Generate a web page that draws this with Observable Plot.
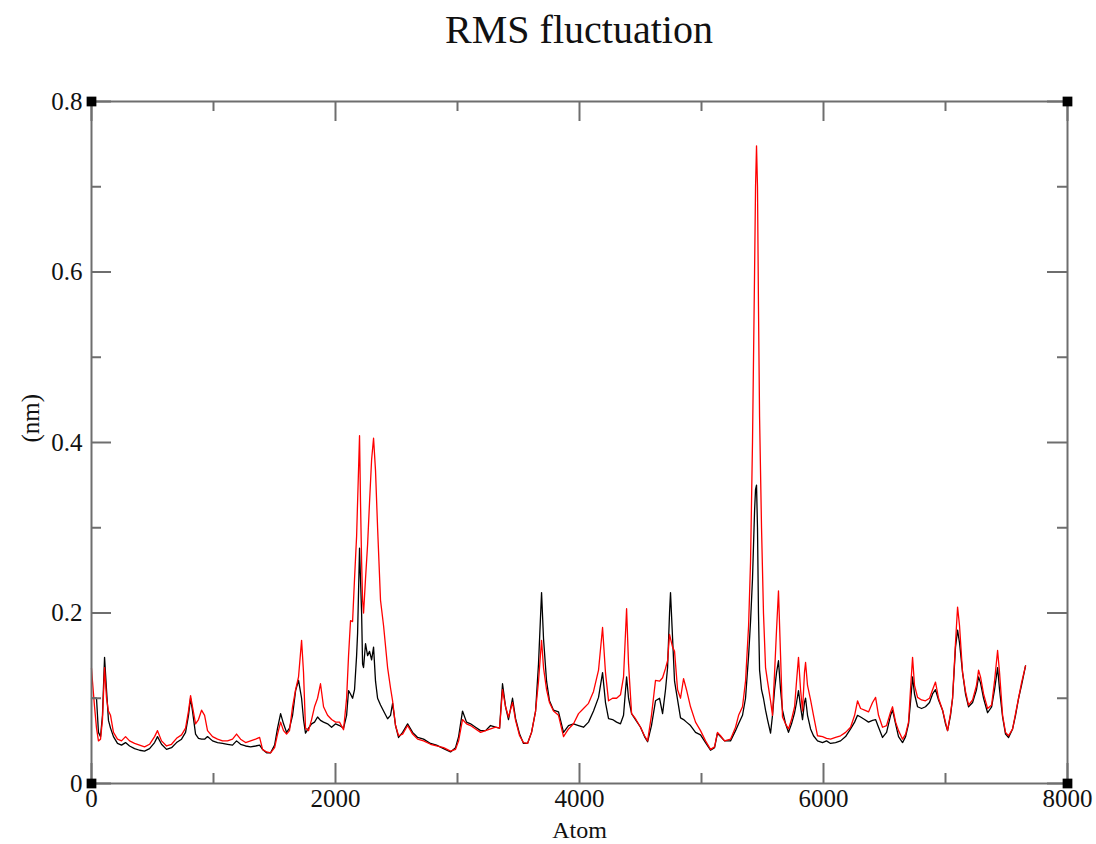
<!DOCTYPE html>
<html>
<head>
<meta charset="utf-8">
<script src="https://cdn.jsdelivr.net/npm/d3@7"></script>
<script src="https://cdn.jsdelivr.net/npm/@observablehq/plot@0.6"></script>
<style>
  body { margin: 0; background: white; }
  #title { box-sizing: border-box; height: 60px; padding: 10px 29px 0 91px; text-align: center;
           font-family: "Liberation Serif", serif; font-size: 40px; line-height: 40px; color: #111; }
</style>
</head>
<body>
<div id="title">RMS fluctuation</div>
<div id="chart"></div>
<script>
const atoms = [
  0,8,25,41,57,74,90,107,123,139,
  156,180,213,246,279,312,353,394,435,476,
  517,541,574,615,656,697,738,771,795,812,
  828,853,877,902,927,951,992,1033,1074,1115,
  1156,1189,1222,1263,1304,1345,1378,1402,1435,1468,
  1501,1525,1550,1574,1599,1623,1648,1673,1697,1722,
  1738,1754,1779,1804,1828,1853,1877,1902,1935,1968,
  2001,2033,2066,2091,2107,2123,2140,2156,2173,2181,
  2197,2205,2214,2222,2230,2246,2263,2279,2296,2312,
  2328,2345,2369,2394,2427,2451,2468,2492,2517,2550,
  2591,2632,2673,2722,2779,2828,2886,2943,2984,3009,
  3041,3074,3107,3148,3189,3230,3271,3312,3345,3369,
  3394,3418,3451,3476,3509,3541,3574,3607,3640,3664,
  3689,3705,3730,3754,3787,3828,3869,3910,3951,3992,
  4033,4074,4115,4156,4189,4213,4238,4271,4304,4336,
  4361,4386,4402,4427,4459,4500,4533,4558,4590,4623,
  4656,4681,4705,4722,4738,4746,4763,4779,4804,4828,
  4853,4877,4910,4951,4992,5033,5074,5107,5131,5156,
  5189,5238,5279,5304,5336,5361,5386,5402,5418,5435,
  5443,5451,5459,5467,5476,5492,5508,5525,5541,5566,
  5582,5599,5615,5631,5648,5664,5689,5713,5738,5763,
  5779,5795,5812,5828,5844,5853,5869,5894,5918,5951,
  5992,6025,6058,6099,6140,6181,6222,6255,6279,6304,
  6337,6369,6402,6427,6451,6484,6517,6550,6566,6591,
  6615,6648,6673,6697,6713,6730,6746,6771,6804,6836,
  6869,6894,6918,6943,6976,7000,7017,7041,7058,7082,
  7099,7115,7140,7164,7189,7222,7254,7271,7287,7312,
  7345,7378,7402,7427,7443,7468,7492,7517,7550,7574,
  7599,7623,7656
];
const rmsfBlack = [
  .100,.100,.100,.100,.060,.055,.080,.148,.110,.074,
  .065,.055,.047,.045,.048,.044,.041,.039,.038,.041,
  .048,.055,.046,.040,.042,.048,.052,.060,.080,.100,
  .085,.058,.053,.052,.052,.055,.050,.048,.047,.046,
  .045,.050,.046,.044,.043,.044,.045,.040,.036,.036,
  .045,.065,.082,.070,.060,.065,.080,.109,.121,.100,
  .075,.059,.065,.070,.072,.078,.074,.072,.070,.066,
  .070,.068,.065,.080,.109,.105,.100,.110,.150,.176,
  .276,.240,.200,.140,.136,.164,.150,.155,.145,.160,
  .120,.100,.092,.085,.076,.080,.094,.068,.054,.060,
  .070,.060,.054,.052,.047,.045,.041,.037,.042,.055,
  .085,.072,.070,.066,.062,.062,.068,.066,.065,.117,
  .090,.075,.100,.076,.058,.047,.047,.060,.085,.140,
  .224,.170,.120,.097,.086,.084,.060,.068,.070,.068,
  .066,.072,.085,.101,.130,.095,.076,.075,.072,.070,
  .080,.125,.100,.082,.075,.066,.055,.049,.068,.097,
  .100,.082,.110,.136,.200,.224,.170,.120,.098,.077,
  .075,.072,.068,.060,.057,.048,.039,.042,.059,.055,
  .050,.050,.062,.070,.080,.100,.150,.190,.240,.320,
  .345,.350,.300,.200,.133,.110,.100,.086,.075,.059,
  .080,.110,.130,.144,.110,.086,.070,.060,.070,.083,
  .095,.109,.090,.075,.095,.100,.080,.064,.056,.050,
  .048,.050,.047,.048,.050,.055,.064,.072,.080,.078,
  .075,.072,.074,.075,.066,.054,.060,.080,.086,.070,
  .055,.048,.055,.070,.095,.125,.105,.090,.088,.090,
  .095,.105,.110,.098,.086,.070,.062,.080,.100,.160,
  .180,.165,.130,.105,.090,.095,.110,.125,.118,.100,
  .083,.090,.110,.136,.110,.078,.058,.054,.064,.080,
  .100,.115,.138
];
const rmsfRed = [
  .135,.120,.090,.065,.050,.052,.075,.136,.100,.085,
  .080,.060,.052,.050,.055,.050,.047,.045,.043,.046,
  .055,.062,.050,.044,.046,.053,.057,.065,.085,.103,
  .090,.070,.075,.086,.080,.062,.055,.052,.050,.050,
  .052,.058,.052,.048,.050,.052,.054,.040,.037,.036,
  .042,.058,.072,.062,.058,.062,.090,.110,.125,.168,
  .130,.065,.062,.075,.090,.100,.117,.090,.080,.075,
  .072,.072,.063,.100,.150,.191,.190,.240,.290,.330,
  .408,.330,.260,.215,.200,.240,.280,.330,.380,.405,
  .367,.300,.215,.185,.136,.112,.097,.068,.056,.058,
  .068,.058,.052,.050,.046,.044,.042,.038,.040,.050,
  .075,.070,.068,.064,.060,.062,.064,.066,.065,.110,
  .090,.078,.095,.074,.056,.048,.047,.060,.085,.120,
  .168,.136,.110,.095,.085,.080,.055,.064,.070,.082,
  .088,.094,.108,.133,.183,.130,.097,.100,.100,.104,
  .125,.205,.140,.082,.076,.066,.056,.050,.080,.121,
  .120,.124,.135,.144,.175,.170,.160,.155,.110,.100,
  .123,.110,.090,.072,.062,.050,.040,.043,.060,.056,
  .050,.052,.066,.080,.090,.120,.185,.260,.400,.600,
  .700,.748,.700,.560,.430,.300,.200,.136,.120,.097,
  .080,.130,.180,.226,.150,.078,.070,.064,.075,.090,
  .120,.148,.110,.085,.130,.142,.115,.098,.080,.056,
  .055,.053,.052,.054,.056,.060,.066,.080,.097,.088,
  .086,.084,.095,.101,.080,.066,.068,.084,.090,.072,
  .062,.052,.058,.072,.110,.148,.115,.101,.098,.097,
  .100,.110,.119,.100,.086,.072,.062,.082,.100,.165,
  .207,.185,.130,.108,.092,.098,.115,.133,.125,.105,
  .088,.092,.120,.156,.130,.080,.060,.056,.064,.082,
  .100,.118,.138
];
const xTicks = [0, 2000, 4000, 6000, 8000];
const xMinorTicks = [1000, 3000, 5000, 7000];
const yTicks = [0, 0.2, 0.4, 0.6, 0.8];
const yMinorTicks = [0.1, 0.3, 0.5, 0.7];
const cornerX = [0, 0, 8000, 8000];
const cornerY = [0, 0.8, 0, 0.8];
const xLabel = "Atom";
const yLabel = "(nm)";

const W = 1096, H = 784, mT = 41, mB = 61, mL = 91, mR = 29;
const innerW = W - mL - mR, innerH = H - mT - mB;
const major = 20, minor = 10;
const axisColor = "#6e6e6e";
const idx = d3.range(atoms.length);
const cidx = d3.range(cornerX.length);

const chart = Plot.plot({
  width: W, height: H,
  marginTop: mT, marginBottom: mB, marginLeft: mL, marginRight: mR,
  x: {domain: [0, 8000]},
  y: {domain: [0, 0.8]},
  style: {fontFamily: "Liberation Serif, serif", fontSize: "25px", color: "#111", background: "white"},
  marks: [
    Plot.line(idx, {x: i => atoms[i], y: i => rmsfBlack[i], stroke: "black", strokeWidth: 1.3}),
    Plot.line(idx, {x: i => atoms[i], y: i => rmsfRed[i], stroke: "#ff0000", strokeWidth: 1.3}),
    Plot.frame({stroke: axisColor, strokeWidth: 2}),
    Plot.tickX(xTicks, {x: d => d, stroke: axisColor, strokeWidth: 2, insetTop: innerH - major}),
    Plot.tickX(xMinorTicks, {x: d => d, stroke: axisColor, strokeWidth: 2, insetTop: innerH - minor}),
    Plot.tickX(xTicks, {x: d => d, stroke: axisColor, strokeWidth: 2, insetBottom: innerH - major}),
    Plot.tickX(xMinorTicks, {x: d => d, stroke: axisColor, strokeWidth: 2, insetBottom: innerH - minor}),
    Plot.tickY(yTicks, {y: d => d, stroke: axisColor, strokeWidth: 2, insetRight: innerW - major}),
    Plot.tickY(yMinorTicks, {y: d => d, stroke: axisColor, strokeWidth: 2, insetRight: innerW - minor}),
    Plot.tickY(yTicks, {y: d => d, stroke: axisColor, strokeWidth: 2, insetLeft: innerW - major}),
    Plot.tickY(yMinorTicks, {y: d => d, stroke: axisColor, strokeWidth: 2, insetLeft: innerW - minor}),
    Plot.axisX(xTicks, {tickSize: 0, tickPadding: 6, tickFormat: d => String(d), label: null}),
    Plot.axisY(yTicks, {tickSize: 0, tickPadding: 9, tickFormat: d => String(d), label: null}),
    Plot.dot(cidx, {x: i => cornerX[i], y: i => cornerY[i], symbol: "square", r: 5.5, fill: "black", stroke: "none"}),
    Plot.text([xLabel], {text: d => d, frameAnchor: "bottom", dy: 47, lineAnchor: "middle", fontSize: 24}),
    Plot.text([yLabel], {text: d => d, frameAnchor: "left", dx: -61, rotate: -90, lineAnchor: "middle", fontSize: 25})
  ]
});
document.getElementById("chart").appendChild(chart);
</script>
</body>
</html>
